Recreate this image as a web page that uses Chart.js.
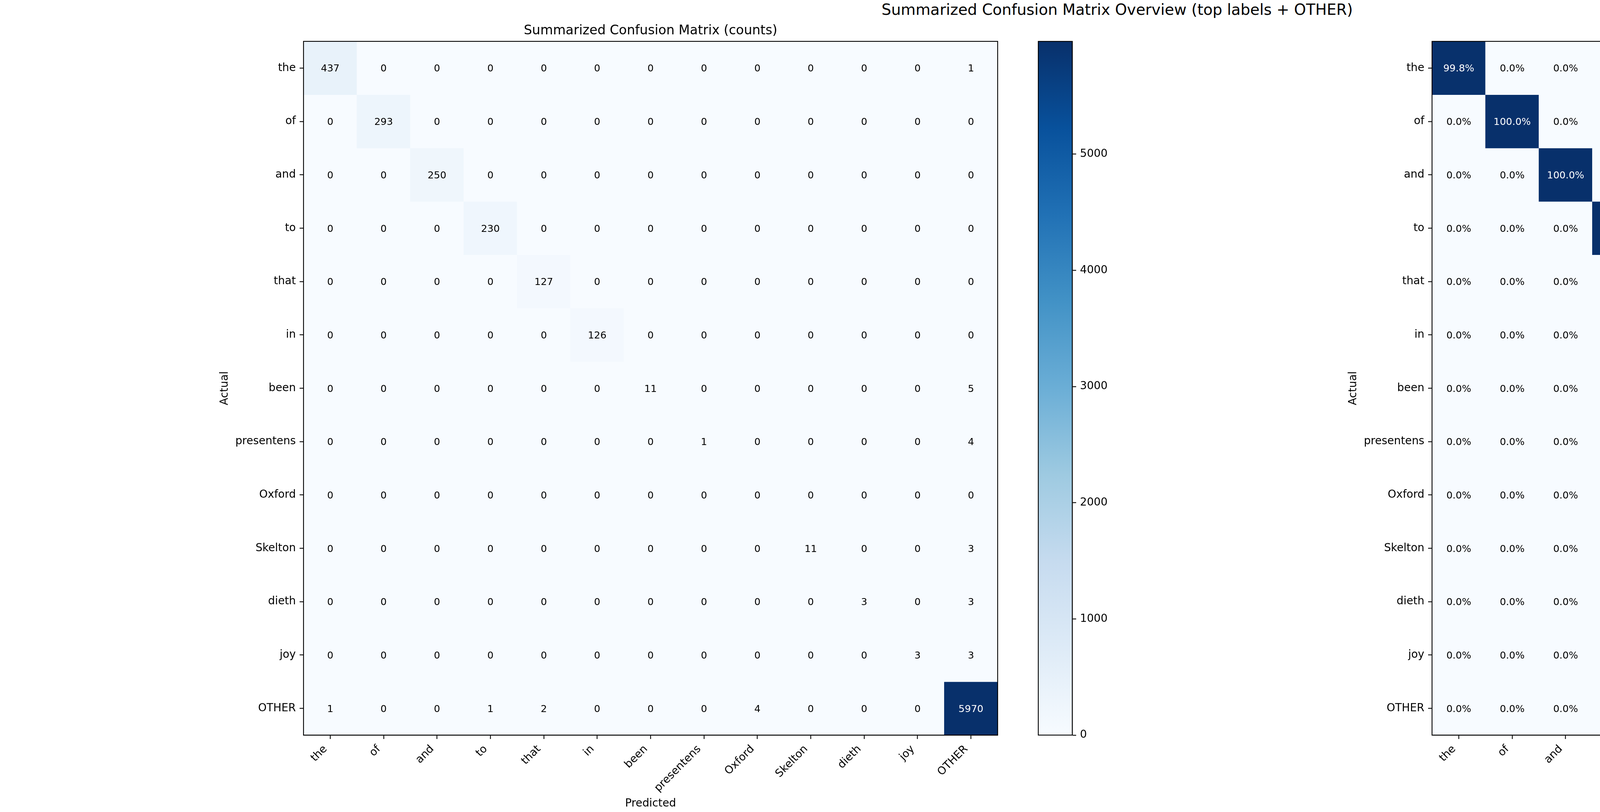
<!DOCTYPE html>
<html>
<head>
<meta charset="utf-8">
<title>Summarized Confusion Matrix Overview</title>
<script src="https://cdn.jsdelivr.net/npm/chart.js@4.4.1/dist/chart.umd.min.js"></script>
<style>
  html, body { margin: 0; padding: 0; background: #fff; }
  body { width: 5720px; height: 2080px; position: relative; overflow: hidden; font-family: "DejaVu Sans", sans-serif; }
  canvas { position: absolute; top: 0; }
  #suptitle { position: absolute; top: 2px; left: 0; width: 5720px; text-align: center; font-size: 38.9px; line-height: 45.3px; color: #000; }
</style>
</head>
<body>
<div id="suptitle">Summarized Confusion Matrix Overview (top labels + OTHER)</div>
<canvas id="countsChart" width="2060" height="2080" style="left:540px"></canvas>
<canvas id="countsBar" width="260" height="2080" style="left:2640px"></canvas>
<canvas id="pctChart" width="2061" height="2080" style="left:3429px"></canvas>
<canvas id="pctBar" width="193" height="2080" style="left:5527px"></canvas>
<script>
// Labels (rows = actual, columns = predicted)
const labels = ["the", "of", "and", "to", "that", "in", "been", "presentens", "Oxford", "Skelton", "dieth", "joy", "OTHER"];

// Counts, one row per actual label
const counts = [
    [437, 0, 0, 0, 0, 0, 0, 0, 0, 0, 0, 0, 1],
    [0, 293, 0, 0, 0, 0, 0, 0, 0, 0, 0, 0, 0],
    [0, 0, 250, 0, 0, 0, 0, 0, 0, 0, 0, 0, 0],
    [0, 0, 0, 230, 0, 0, 0, 0, 0, 0, 0, 0, 0],
    [0, 0, 0, 0, 127, 0, 0, 0, 0, 0, 0, 0, 0],
    [0, 0, 0, 0, 0, 126, 0, 0, 0, 0, 0, 0, 0],
    [0, 0, 0, 0, 0, 0, 11, 0, 0, 0, 0, 0, 5],
    [0, 0, 0, 0, 0, 0, 0, 1, 0, 0, 0, 0, 4],
    [0, 0, 0, 0, 0, 0, 0, 0, 0, 0, 0, 0, 0],
    [0, 0, 0, 0, 0, 0, 0, 0, 0, 11, 0, 0, 3],
    [0, 0, 0, 0, 0, 0, 0, 0, 0, 0, 3, 0, 3],
    [0, 0, 0, 0, 0, 0, 0, 0, 0, 0, 0, 3, 3],
    [1, 0, 0, 1, 2, 0, 0, 0, 4, 0, 0, 0, 5970],
];

// Row percentages as shown in the right panel
const rowPct = [
    [99.8, 0, 0, 0, 0, 0, 0, 0, 0, 0, 0, 0, 0.2],
    [0, 100, 0, 0, 0, 0, 0, 0, 0, 0, 0, 0, 0],
    [0, 0, 100, 0, 0, 0, 0, 0, 0, 0, 0, 0, 0],
    [0, 0, 0, 100, 0, 0, 0, 0, 0, 0, 0, 0, 0],
    [0, 0, 0, 0, 100, 0, 0, 0, 0, 0, 0, 0, 0],
    [0, 0, 0, 0, 0, 100, 0, 0, 0, 0, 0, 0, 0],
    [0, 0, 0, 0, 0, 0, 68.8, 0, 0, 0, 0, 0, 31.2],
    [0, 0, 0, 0, 0, 0, 0, 20.0, 0, 0, 0, 0, 80.0],
    [0, 0, 0, 0, 0, 0, 0, 0, 0, 0, 0, 0, 0],
    [0, 0, 0, 0, 0, 0, 0, 0, 0, 78.6, 0, 0, 21.4],
    [0, 0, 0, 0, 0, 0, 0, 0, 0, 0, 50.0, 0, 50.0],
    [0, 0, 0, 0, 0, 0, 0, 0, 0, 0, 0, 50.0, 50.0],
    [0, 0, 0, 0, 0, 0, 0, 0, 0.1, 0, 0, 0, 99.9],
];

// Colour bar ranges and ticks
const countMax = 5970;
const countTicks = [0, 1000, 2000, 3000, 4000, 5000];
const pctMax = 100;
const pctTicks = [0, 20, 40, 60, 80, 100];

// matplotlib "Blues"
const bluesStops = ["#f7fbff", "#deebf7", "#c6dbef", "#9ecae1", "#6baed6", "#4292c6", "#2171b5", "#08519c", "#08306b"];

function hexToRgb(h) {
    return [1, 3, 5].map((i) => parseInt(h.slice(i, i + 2), 16));
}

function blues(t) {
    t = Math.min(Math.max(t, 0), 1);
    const pos = t * (bluesStops.length - 1);
    const i = Math.min(Math.floor(pos), bluesStops.length - 2);
    const f = pos - i;
    const a = hexToRgb(bluesStops[i]);
    const b = hexToRgb(bluesStops[i + 1]);
    const c = a.map((v, k) => Math.round(v + (b[k] - v) * f));
    return `rgb(${c[0]}, ${c[1]}, ${c[2]})`;
}

Chart.defaults.font.family = '"DejaVu Sans", sans-serif';
Chart.defaults.color = "#000";

const FONT = 27.8;   // 10pt @ 200dpi
const LINE = 2.2;    // 0.8pt

// Black frame around the plot area (all four spines)
const framePlugin = {
    id: "frame",
    afterDraw(chart) {
        const { ctx, chartArea: a } = chart;
        ctx.save();
        ctx.strokeStyle = "#000";
        ctx.lineWidth = LINE;
        ctx.strokeRect(a.left, a.top, a.right - a.left, a.bottom - a.top);
        ctx.restore();
    },
};

// Background for the image area so no seams show between cells
const areaBgPlugin = {
    id: "areaBg",
    beforeDatasetsDraw(chart) {
        const { ctx, chartArea: a } = chart;
        ctx.save();
        ctx.fillStyle = blues(0);
        ctx.fillRect(a.left, a.top, a.right - a.left, a.bottom - a.top);
        ctx.restore();
    },
};

// Value written in every cell
function cellTextPlugin(values, vmax, fmt) {
    return {
        id: "cellText",
        afterDatasetsDraw(chart) {
            const { ctx, scales } = chart;
            const size = 25;
            ctx.save();
            ctx.font = `${size}px "DejaVu Sans"`;
            ctx.textAlign = "center";
            ctx.textBaseline = "alphabetic";
            values.forEach((row, r) => {
                row.forEach((v, c) => {
                    ctx.fillStyle = v > vmax / 2 ? "#fff" : "#000";
                    const x = scales.x.getPixelForValue(c);
                    const y = scales.y.getPixelForValue(r);
                    ctx.fillText(fmt(v), x, y + size * 0.729 / 2);
                });
            });
            ctx.restore();
        },
    };
}

function heatmap(id, values, vmax, fmt, title) {
    const datasets = values.map((row, r) => ({
        data: row.map(() => [r - 0.5, r + 0.5]),
        backgroundColor: row.map((v) => blues(v / vmax)),
        borderWidth: 0,
        grouped: false,
        barPercentage: 1,
        categoryPercentage: 1,
    }));

    return new Chart(document.getElementById(id), {
        type: "bar",
        data: { labels: labels, datasets: datasets },
        options: {
            responsive: false,
            devicePixelRatio: 1,
            animation: false,
            events: [],
            layout: { padding: { left: 0, right: 46, top: 0, bottom: 0 } },
            plugins: {
                legend: { display: false },
                tooltip: { enabled: false },
                title: {
                    display: true,
                    text: title,
                    fullSize: false,
                    color: "#000",
                    font: { size: 33.3, weight: "normal" },
                    padding: { top: 59.4, bottom: 6.6 },
                },
            },
            scales: {
                x: {
                    type: "category",
                    offset: true,
                    grid: { offset: false, drawOnChartArea: false, tickLength: 10, tickWidth: LINE, tickColor: "#000" },
                    border: { display: true, color: "#000", width: LINE },
                    ticks: { autoSkip: false, minRotation: 45, maxRotation: 45, labelOffset: -12, padding: 9.7, color: "#000", font: { size: FONT } },
                    title: { display: true, text: "Predicted", color: "#000", font: { size: FONT }, padding: { top: 0, bottom: 4.3 } },
                    afterFit: (s) => { s.height = 197; },
                },
                y: {
                    type: "linear",
                    min: -0.5,
                    max: labels.length - 0.5,
                    reverse: true,
                    afterBuildTicks: (s) => { s.ticks = labels.map((_, i) => ({ value: i })); },
                    grid: { drawOnChartArea: false, tickLength: 10, tickWidth: LINE, tickColor: "#000" },
                    border: { display: true, color: "#000", width: LINE },
                    ticks: { autoSkip: false, padding: 9.7, color: "#000", font: { size: FONT }, callback: (v) => labels[v] },
                    title: { display: true, text: "Actual", color: "#000", font: { size: FONT }, padding: { top: 19, bottom: 0 } },
                    afterFit: (s) => { s.width = 237; },
                },
            },
        },
        plugins: [areaBgPlugin, cellTextPlugin(values, vmax, fmt), framePlugin],
    });
}

function colorbar(id, vmax, ticks, axisWidth) {
    return new Chart(document.getElementById(id), {
        type: "bar",
        data: {
            labels: [""],
            datasets: [{
                data: [[0, vmax]],
                backgroundColor: (ctx) => {
                    const a = ctx.chart.chartArea;
                    if (!a) return blues(0.5);
                    const g = ctx.chart.ctx.createLinearGradient(0, a.bottom, 0, a.top);
                    bluesStops.forEach((c, i) => g.addColorStop(i / (bluesStops.length - 1), c));
                    return g;
                },
                borderWidth: 0,
                inflateAmount: 0,
                barPercentage: 1,
                categoryPercentage: 1,
            }],
        },
        options: {
            responsive: false,
            devicePixelRatio: 1,
            animation: false,
            events: [],
            layout: { padding: { left: 18, right: 0, top: 106, bottom: 197 } },
            plugins: { legend: { display: false }, tooltip: { enabled: false } },
            scales: {
                x: { display: false },
                y: {
                    position: "right",
                    min: 0,
                    max: vmax,
                    afterBuildTicks: (s) => { s.ticks = ticks.map((v) => ({ value: v })); },
                    grid: { drawOnChartArea: false, tickLength: 10, tickWidth: LINE, tickColor: "#000" },
                    border: { display: true, color: "#000", width: LINE },
                    ticks: { padding: 9.7, color: "#000", font: { size: FONT }, callback: (v) => String(v) },
                    afterFit: (s) => { s.width = axisWidth; },
                },
            },
        },
        plugins: [framePlugin],
    });
}

heatmap("countsChart", counts, countMax, (v) => String(v), "Summarized Confusion Matrix (counts)");
colorbar("countsBar", countMax, countTicks, 155);
heatmap("pctChart", rowPct, pctMax, (v) => v.toFixed(1) + "%", "Summarized Confusion Matrix (row %)");
colorbar("pctBar", pctMax, pctTicks, 85);
</script>
</body>
</html>
